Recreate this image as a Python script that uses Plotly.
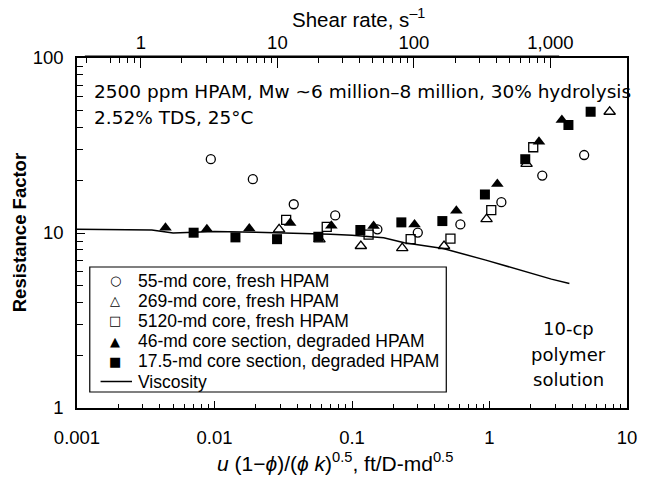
import plotly.graph_objects as go

# ---- data ----
c55_x = [0.0094, 0.019, 0.0377, 0.0755, 0.153, 0.301, 0.614, 1.22, 2.42, 4.88]
c55_y = [26.4, 20.3, 14.6, 12.6, 10.5, 10.05, 11.2, 15.0, 21.3, 27.9]

t269_x = [0.0295, 0.058, 0.116, 0.232, 0.467, 0.952, 1.86, 7.48]
t269_y = [10.5, 9.2, 8.43, 8.2, 8.43, 12.0, 24.8, 49.3]

s5120_x = [0.0332, 0.0655, 0.132, 0.267, 0.52, 1.03, 2.08]
s5120_y = [11.9, 10.85, 9.8, 9.23, 9.28, 13.5, 30.9]

t46_x = [0.0044, 0.0088, 0.0179, 0.0355, 0.0708, 0.1435, 0.285, 0.574, 1.14, 2.29, 3.36]
t46_y = [10.7, 10.5, 10.6, 11.4, 11.0, 10.96, 11.2, 13.4, 19.05, 33.2, 44.2]

s175_x = [0.00705, 0.0142, 0.0285, 0.0569, 0.115, 0.2285, 0.454, 0.926, 1.82, 3.75, 5.44]
s175_y = [10.04, 9.44, 9.22, 9.52, 10.4, 11.5, 11.7, 16.6, 26.4, 41.4, 49.3]

visc_x = [0.001, 0.002, 0.0035, 0.005, 0.01, 0.02, 0.04, 0.07, 0.1, 0.17, 0.24, 0.46, 0.94, 1.63, 2.82, 3.81]
visc_y = [10.5, 10.4, 10.4, 10.0, 10.2, 10.1, 10.0, 9.85, 9.7, 9.4, 8.8, 8.15, 7.0, 6.15, 5.45, 5.15]

legend_names = ["55-md core, fresh HPAM", "269-md core, fresh HPAM", "5120-md core, fresh HPAM",
                "46-md core section, degraded HPAM", "17.5-md core section, degraded HPAM", "Viscosity"]
legend_glyphs = ["\u25cb", "\u25b3", "\u25a1", "\u25b2", "\u25a0", None]

x_ticks = [0.001, 0.01, 0.1, 1, 10]
x_ticktext = ["0.001", "0.01", "0.1", "1", "10"]
y_ticks = [1, 10, 100]
y_ticktext = ["1", "10", "100"]
top_ticks = [1, 10, 100, 1000]
top_ticktext = ["1", "10", "100", "1,000"]

LIB = "Liberation Sans, Arial, Helvetica, sans-serif"
DJV = "DejaVu Sans, sans-serif"

# plot-area geometry in pixels (for paper-coordinate conversion of decorations)
W, H = 649, 477
ML, MR, MT, MB = 77, 12, 58, 69
PW, PH = W - ML - MR, H - MT - MB
def px(x):
    return (x - ML) / PW
def py(y):
    return (H - MB - y) / PH

def minors(decades, start=2):
    out = []
    for d in decades:
        for k in range(start, 10):
            out.append(k * d)
    return out

fig = go.Figure()
fig.add_trace(go.Scatter(x=visc_x, y=visc_y, mode="lines", name=legend_names[5],
                         line=dict(color="black", width=1.5), showlegend=False))
mk = dict(color="black", size=9, line=dict(color="black", width=1.3))
fig.add_trace(go.Scatter(x=c55_x, y=c55_y, mode="markers", name=legend_names[0], showlegend=False,
                         marker=dict(symbol="circle-open", **mk)))
fig.add_trace(go.Scatter(x=t269_x, y=t269_y, mode="markers", name=legend_names[1], showlegend=False,
                         marker=dict(symbol="triangle-up-open", color="black", size=10, line=dict(color="black", width=1.3))))
fig.add_trace(go.Scatter(x=s5120_x, y=s5120_y, mode="markers", name=legend_names[2], showlegend=False,
                         marker=dict(symbol="square-open", **mk)))
fig.add_trace(go.Scatter(x=t46_x, y=t46_y, mode="markers", name=legend_names[3], showlegend=False,
                         marker=dict(symbol="triangle-up", color="black", size=11, line=dict(width=0))))
fig.add_trace(go.Scatter(x=s175_x, y=s175_y, mode="markers", name=legend_names[4], showlegend=False,
                         marker=dict(symbol="square", color="black", size=10, line=dict(width=0))))
# helper trace so the top (shear-rate) axis is rendered
fig.add_trace(go.Scatter(x=top_ticks, y=[None] * len(top_ticks), xaxis="x2", yaxis="y", mode="markers",
                         showlegend=False, hoverinfo="skip", marker=dict(opacity=0)))

fig.update_layout(
    width=W, height=H,
    margin=dict(l=ML, r=MR, t=MT, b=MB),
    paper_bgcolor="white", plot_bgcolor="white",
    font=dict(family=LIB, size=18, color="black"),
    showlegend=False,
    xaxis=dict(type="log", range=[-3, 1], tickmode="array", tickvals=x_ticks, ticktext=x_ticktext,
               ticks="inside", ticklen=7, tickwidth=1.2, tickcolor="black",
               showline=True, linecolor="black", linewidth=1.5, mirror=True,
               showgrid=False, zeroline=False, ticklabelstandoff=12,
               tickfont=dict(family=LIB, size=18.5),
               minor=dict(tickmode="array", tickvals=minors([0.001, 0.01, 0.1, 1]),
                          ticks="inside", ticklen=4, tickwidth=1, tickcolor="black", showgrid=False)),
    yaxis=dict(type="log", range=[0, 2], tickmode="array", tickvals=y_ticks, ticktext=y_ticktext,
               ticks="inside", ticklen=8, tickwidth=1.2, tickcolor="black",
               showline=True, linecolor="black", linewidth=1.5, mirror=True,
               showgrid=False, zeroline=False, ticklabelstandoff=8,
               tickfont=dict(family=LIB, size=18.5),
               minor=dict(tickmode="array", tickvals=minors([1, 10]),
                          ticks="inside", ticklen=6, tickwidth=1, tickcolor="black", showgrid=False)),
    xaxis2=dict(type="log", overlaying="x", side="top", anchor="y",
                range=[-0.468, 3.561], tickmode="array", tickvals=top_ticks, ticktext=top_ticktext,
                ticks="inside", ticklen=10, tickwidth=1.2, tickcolor="black",
                showline=False, showgrid=False, zeroline=False, ticklabelstandoff=4,
                tickfont=dict(family=LIB, size=18.5),
                minor=dict(tickmode="array", tickvals=[0.4, 0.6, 0.7, 0.8, 0.9] + minors([1, 10, 100]),
                           ticks="inside", ticklen=5, tickwidth=1, tickcolor="black", showgrid=False)),
)

shapes = []
# partial top-axis line
shapes.append(dict(type="line", xref="paper", yref="paper", x0=px(85), x1=px(568), y0=py(56.5), y1=py(56.5),
                   line=dict(color="black", width=2)))
# legend box
shapes.append(dict(type="rect", xref="paper", yref="paper", x0=px(90), x1=px(453), y0=py(392), y1=py(267),
                   line=dict(color="black", width=1.2), fillcolor="rgba(0,0,0,0)"))

ann = []
leg_y0, leg_dy = 280.5, 20.2
for i, name in enumerate(legend_names):
    yc = leg_y0 + i * leg_dy
    ann.append(dict(text=name, x=px(137), y=py(yc), xref="paper", yref="paper", showarrow=False,
                    xanchor="left", yanchor="middle", font=dict(family=LIB, size=17.5)))
    g = legend_glyphs[i]
    if g is None:
        shapes.append(dict(type="line", xref="paper", yref="paper", x0=px(101), x1=px(133),
                           y0=py(yc), y1=py(yc), line=dict(color="black", width=1.5)))
    else:
        ann.append(dict(text=g, x=px(116), y=py(yc), xref="paper", yref="paper", showarrow=False,
                        xanchor="center", yanchor="middle", font=dict(family=DJV, size=13)))

ann.append(dict(text="Shear rate, s<sup>\u20131</sup>", x=0.511, y=1.114, xref="paper", yref="paper",
                showarrow=False, xanchor="center", yanchor="middle", font=dict(family=LIB, size=20.5)))
ann.append(dict(text="<b>Resistance Factor</b>", x=-0.105, y=0.5, xref="paper", yref="paper",
                showarrow=False, textangle=-90, xanchor="center", yanchor="middle", font=dict(family=LIB, size=18.5)))
ann.append(dict(text="<i>u</i> (1\u2212<i>\u03d5</i>)/(<i>\u03d5 k</i>)<sup>0.5</sup>, ft/D-md<sup>0.5</sup>",
                x=px(340), y=py(462), xref="paper", yref="paper", showarrow=False,
                xanchor="center", yanchor="middle", font=dict(family=LIB, size=21)))
ann.append(dict(text="2500 ppm HPAM, Mw ~6 million\u20138 million, 30% hydrolysis", x=px(92), y=py(91),
                xref="paper", yref="paper", showarrow=False, xanchor="left", yanchor="middle",
                font=dict(family=DJV, size=18.5)))
ann.append(dict(text="2.52% TDS, 25\u00b0C", x=px(92), y=py(117),
                xref="paper", yref="paper", showarrow=False, xanchor="left", yanchor="middle",
                font=dict(family=DJV, size=18.5)))
for txt, yy in [("10-cp", 328), ("polymer", 354), ("solution", 379)]:
    ann.append(dict(text=txt, x=px(577), y=py(yy), xref="paper", yref="paper", showarrow=False,
                    xanchor="center", yanchor="middle", font=dict(family=DJV, size=18)))
fig.update_layout(annotations=ann, shapes=shapes)

fig.write_html("out.html")
